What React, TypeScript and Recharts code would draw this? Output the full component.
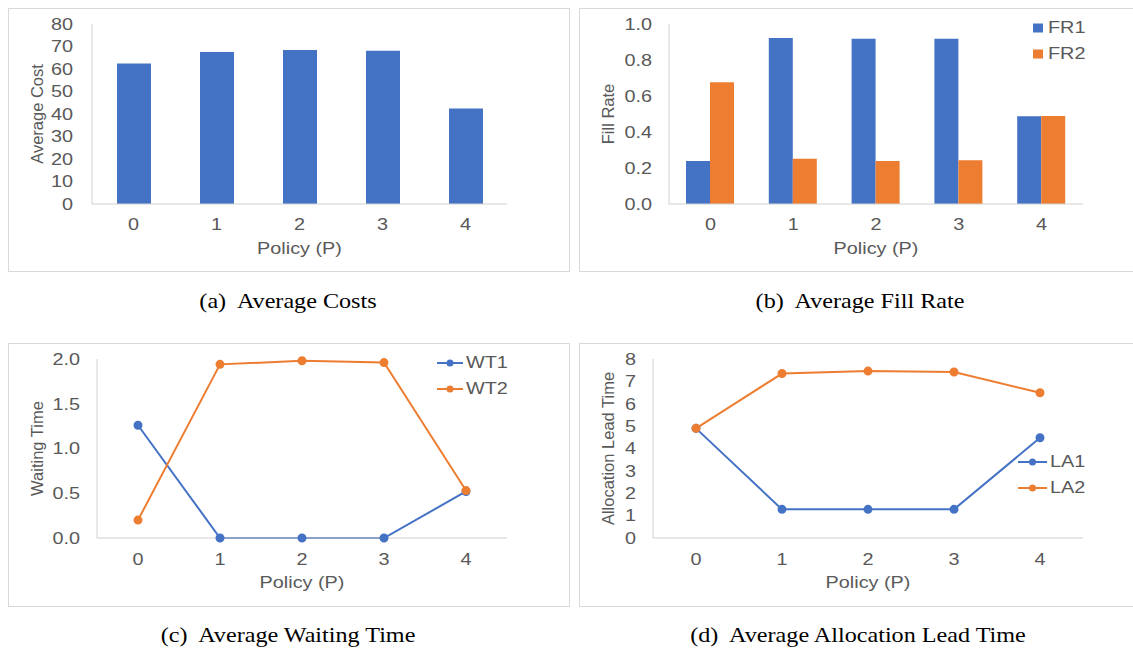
import React from 'react';
import { BarChart, Bar, LineChart, Line, XAxis, YAxis, Legend } from 'recharts';

const policies = ['0', '1', '2', '3', '4'];
const avgCost = [62.5, 67.6, 68.4, 68.1, 42.5];
const fr1 = [0.239, 0.922, 0.918, 0.918, 0.487];
const fr2 = [0.676, 0.252, 0.239, 0.243, 0.489];
const wt1 = [1.26, 0.0, 0.0, 0.0, 0.52];
const wt2 = [0.2, 1.94, 1.98, 1.96, 0.53];
const la1 = [4.9, 1.28, 1.28, 1.28, 4.48];
const la2 = [4.9, 7.35, 7.46, 7.42, 6.49];

const costTicks = [0, 10, 20, 30, 40, 50, 60, 70, 80];
const fillTicks = [0, 0.2, 0.4, 0.6, 0.8, 1.0];
const waitTicks = [0, 0.5, 1.0, 1.5, 2.0];
const leadTicks = [0, 1, 2, 3, 4, 5, 6, 7, 8];

const costData = policies.map((p, i) => ({ p, cost: avgCost[i] }));
const fillData = policies.map((p, i) => ({ p, FR1: fr1[i], FR2: fr2[i] }));
const waitData = policies.map((p, i) => ({ p, WT1: wt1[i], WT2: wt2[i] }));
const leadData = policies.map((p, i) => ({ p, LA1: la1[i], LA2: la2[i] }));

const BLUE = '#4472C4';
const ORANGE = '#ED7D31';
const TEXT = '#595959';
const GRID = '#d0d0d0';
const FONT = '"Liberation Sans", Arial, sans-serif';
const SX = 1.24;
const W = 562;
const H = 264;

const tick = (anchor: string, fmt: (v: any) => string) => (props: any) => {
  const { x, y, payload } = props;
  return (
    <g transform={`translate(${x},${y})`}>
      <text transform={`scale(${SX},1)`} textAnchor={anchor} dy="0.36em" fill={TEXT} fontSize={16} fontFamily={FONT}>
        {fmt(payload.value)}
      </text>
    </g>
  );
};

const yTitle = (text: string) => (props: any) => {
  const vb = props.viewBox;
  const cx = 29;
  const cy = vb.y + vb.height / 2;
  return (
    <text x={cx} y={cy} transform={`rotate(-90,${cx},${cy})`} textAnchor="middle" dy="0.36em" fill={TEXT} fontSize={16.5} fontFamily={FONT}>
      {text}
    </text>
  );
};

const xTitle = (props: any) => {
  const vb = props.viewBox;
  const cx = vb.x + vb.width / 2;
  const cy = vb.y + 44;
  return (
    <g transform={`translate(${cx},${cy})`}>
      <text transform={`scale(${SX},1)`} textAnchor="middle" dy="0.36em" fill={TEXT} fontSize={16} fontFamily={FONT}>
        Policy (P)
      </text>
    </g>
  );
};

const legendContent = (kind: 'bar' | 'line', lineW: number) => (props: any) => (
  <div>
    {(props.payload || []).map((e: any) => (
      <div key={e.value} style={{ height: 26, display: 'flex', alignItems: 'center' }}>
        <svg width={kind === 'bar' ? 10 : lineW} height={10} style={{ marginRight: kind === 'bar' ? 5 : 3 }}>
          {kind === 'bar' ? (
            <rect x={0} y={0.5} width={10} height={9} fill={e.color} />
          ) : (
            <g>
              <line x1={0} x2={lineW} y1={5} y2={5} stroke={e.color} strokeWidth={2} />
              <circle cx={lineW / 2} cy={5} r={3.5} fill={e.color} />
            </g>
          )}
        </svg>
        <span style={{ display: 'inline-block', transform: `scaleX(${SX})`, transformOrigin: 'left center', color: TEXT, fontSize: 16, fontFamily: FONT, whiteSpace: 'nowrap' }}>
          {e.value}
        </span>
      </div>
    ))}
  </div>
);

const fmt1 = (v: number) => v.toFixed(1);
const fmt0 = (v: any) => String(v);

const box = (left: number, top: number): React.CSSProperties => ({
  position: 'absolute', left, top, width: W, height: H, border: `1px solid #d9d9d9`, boxSizing: 'border-box',
});
const chartPos = (left: number, top: number): React.CSSProperties => ({ position: 'absolute', left, top });

const Caption = ({ cx, cy, text }: { cx: number; cy: number; text: string }) => (
  <div style={{
    position: 'absolute', left: cx - 200, top: cy - 12, width: 400, height: 24, lineHeight: '24px', textAlign: 'center',
    fontFamily: '"Liberation Serif", "Times New Roman", serif', fontSize: 21, color: '#000',
    transform: `scaleX(1.15)`, transformOrigin: 'center center', whiteSpace: 'pre',
  }}>
    {text}
  </div>
);

const App: React.FC = () => {
  return (
    <div style={{ position: 'absolute', left: 0, top: 0, width: 1133, height: 650, overflow: 'hidden', background: '#fff' }}>
      <div style={box(8, 8)} />
      <div style={chartPos(8, 8)}>
        <BarChart width={W} height={H} data={costData} margin={{ top: 16, right: 63, left: 24, bottom: 8 }}>
          <XAxis dataKey="p" height={60} tickSize={0} tickMargin={20} axisLine={{ stroke: GRID }} tick={tick('middle', fmt0)} label={xTitle} />
          <YAxis width={60} domain={[0, 80]} ticks={costTicks} interval={0} tickSize={0} tickMargin={19} axisLine={{ stroke: GRID }} tick={tick('end', fmt0)} label={yTitle('Average Cost')} />
          <Bar dataKey="cost" fill={BLUE} barSize={34} isAnimationActive={false} />
        </BarChart>
      </div>

      <div style={box(579, 8)} />
      <div style={chartPos(579, 8)}>
        <BarChart width={W} height={H} data={fillData} margin={{ top: 16, right: 58, left: 30, bottom: 8 }} barGap={0}>
          <XAxis dataKey="p" height={60} tickSize={0} tickMargin={20} axisLine={{ stroke: GRID }} tick={tick('middle', fmt0)} label={xTitle} />
          <YAxis width={60} domain={[0, 1]} ticks={fillTicks} interval={0} tickSize={0} tickMargin={17} axisLine={{ stroke: GRID }} tick={tick('end', fmt1)} label={yTitle('Fill Rate')} />
          <Legend layout="vertical" align="center" verticalAlign="middle" content={legendContent('bar', 10)} wrapperStyle={{ left: 454, top: 7, width: 100, height: 52 }} />
          <Bar dataKey="FR1" fill={BLUE} barSize={24} isAnimationActive={false} />
          <Bar dataKey="FR2" fill={ORANGE} barSize={24} isAnimationActive={false} />
        </BarChart>
      </div>

      <div style={box(8, 343)} />
      <div style={chartPos(8, 343)}>
        <LineChart width={W} height={H} data={waitData} margin={{ top: 16, right: 63, left: 29, bottom: 9 }}>
          <XAxis dataKey="p" height={60} padding={{ left: 41, right: 41 }} tickSize={0} tickMargin={21} axisLine={{ stroke: GRID }} tick={tick('middle', fmt0)} label={xTitle} />
          <YAxis width={60} domain={[0, 2]} ticks={waitTicks} interval={0} tickSize={0} tickMargin={17} axisLine={{ stroke: GRID }} tick={tick('end', fmt1)} label={yTitle('Waiting Time')} />
          <Legend layout="vertical" align="center" verticalAlign="middle" content={legendContent('line', 26)} wrapperStyle={{ left: 429, top: 7, width: 110, height: 52 }} />
          <Line dataKey="WT1" stroke={BLUE} strokeWidth={2} dot={{ r: 3.5, fill: BLUE, stroke: BLUE }} activeDot={false} isAnimationActive={false} />
          <Line dataKey="WT2" stroke={ORANGE} strokeWidth={2} dot={{ r: 3.5, fill: ORANGE, stroke: ORANGE }} activeDot={false} isAnimationActive={false} />
        </LineChart>
      </div>

      <div style={box(579, 343)} />
      <div style={chartPos(579, 343)}>
        <LineChart width={W} height={H} data={leadData} margin={{ top: 16, right: 58, left: 14, bottom: 9 }}>
          <XAxis dataKey="p" height={60} padding={{ left: 43, right: 43 }} tickSize={0} tickMargin={21} axisLine={{ stroke: GRID }} tick={tick('middle', fmt0)} label={xTitle} />
          <YAxis width={60} domain={[0, 8]} ticks={leadTicks} interval={0} tickSize={0} tickMargin={17} axisLine={{ stroke: GRID }} tick={tick('end', fmt0)} label={yTitle('Allocation Lead Time')} />
          <Legend layout="vertical" align="center" verticalAlign="middle" content={legendContent('line', 29)} wrapperStyle={{ left: 439, top: 106, width: 110, height: 52 }} />
          <Line dataKey="LA1" stroke={BLUE} strokeWidth={2} dot={{ r: 3.5, fill: BLUE, stroke: BLUE }} activeDot={false} isAnimationActive={false} />
          <Line dataKey="LA2" stroke={ORANGE} strokeWidth={2} dot={{ r: 3.5, fill: ORANGE, stroke: ORANGE }} activeDot={false} isAnimationActive={false} />
        </LineChart>
      </div>

      <Caption cx={288} cy={301} text={'(a)  Average Costs'} />
      <Caption cx={860} cy={301} text={'(b)  Average Fill Rate'} />
      <Caption cx={288} cy={635} text={'(c)  Average Waiting Time'} />
      <Caption cx={858} cy={635} text={'(d)  Average Allocation Lead Time'} />
    </div>
  );
};

export default App;
